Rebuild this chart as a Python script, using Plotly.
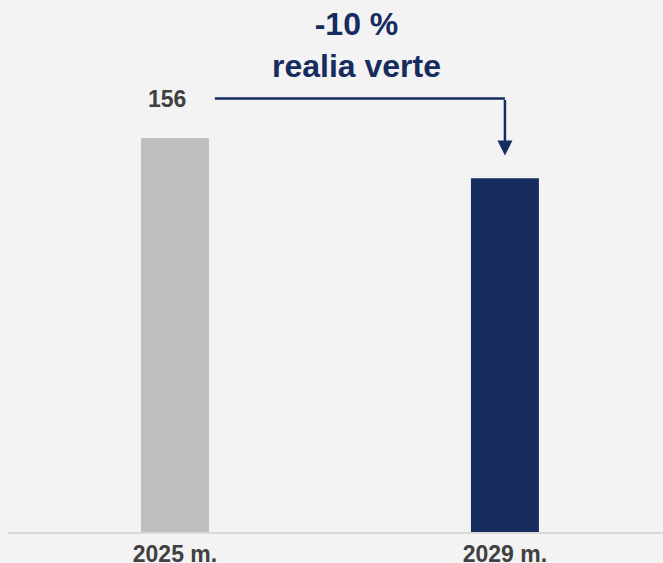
import plotly.graph_objects as go

# chart data
years = ['2025 m.', '2029 m.']
values = [156, 140]
bar_colors = ['#bebfc1', '#172c5e']
change_label = '-10 %<br>realia verte'

NAVY = '#172c5e'
GREY_TEXT = '#404040'
BG = '#f3f3f3'

x_pos = list(range(len(years)))

fig = go.Figure()
fig.add_trace(go.Bar(
    x=x_pos,
    y=values,
    marker=dict(color=bar_colors, line=dict(width=0)),
    width=0.206,
    hoverinfo='skip',
))

# connector: from the first value over to the second bar
top_y = values[0] * 1.1
tip_y = values[1] + 9
fig.add_shape(type='line', xref='x', yref='y',
              x0=0.121, x1=x_pos[1], y0=top_y, y1=top_y,
              line=dict(color=NAVY, width=2.5))
fig.add_annotation(x=x_pos[1], y=tip_y, ax=x_pos[1], ay=top_y,
                   xref='x', yref='y', axref='x', ayref='y',
                   text='', showarrow=True, arrowhead=2, arrowsize=1.2,
                   arrowwidth=2.5, arrowcolor=NAVY)

# value label of first bar
fig.add_annotation(x=x_pos[0], y=top_y, xref='x', yref='y',
                   text='<b>%d</b>' % values[0], showarrow=False,
                   xshift=-8, font=dict(size=23, color=GREY_TEXT,
                                        family='Arial, Liberation Sans, sans-serif'))

# change label
fig.add_annotation(x=0.55, y=1, xref='x', yref='paper', yanchor='top',
                   yshift=-4, text='<b>%s</b>' % change_label, showarrow=False,
                   font=dict(size=32, color=NAVY,
                             family='Arial, Liberation Sans, sans-serif'))

fig.update_layout(
    width=663, height=563,
    margin=dict(l=8, r=0, t=0, b=31),
    paper_bgcolor=BG, plot_bgcolor=BG,
    showlegend=False,
    xaxis=dict(range=[-0.506, 1.479], tickvals=x_pos, ticktext=['<b>%s</b>' % y for y in years],
               showline=True, linecolor='#d9d9d9', linewidth=2, showgrid=False,
               zeroline=False, ticks='', automargin=False,
               tickfont=dict(size=23, color=GREY_TEXT,
                             family='Arial, Liberation Sans, sans-serif')),
    yaxis=dict(range=[0, 210.6], visible=False, showgrid=False, zeroline=False),
)

# drop the default page margin so the figure fills the window
fig.write_html("out.html", config={'displayModeBar': False},
               post_script="document.body.style.margin='0';"
                           "document.body.style.background='%s';" % BG)
